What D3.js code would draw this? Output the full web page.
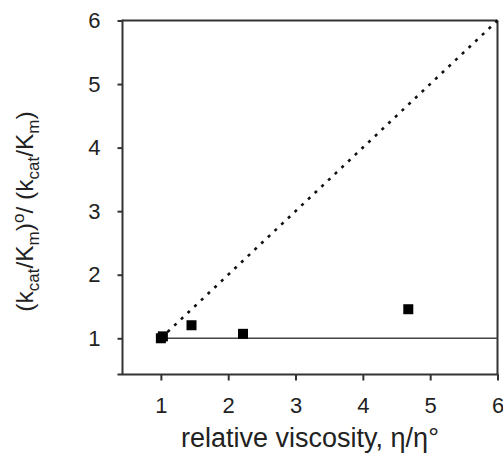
<!DOCTYPE html>
<html><head><meta charset="utf-8">
<script src="https://cdn.jsdelivr.net/npm/d3@7"></script>
<style>body{margin:0;background:#fff}svg{display:block}text{font-family:"Liberation Sans",Arial,sans-serif;fill:#222}</style>
</head><body><svg id="c" width="503" height="460"></svg>
<script>
const xTicks = [1, 2, 3, 4, 5, 6];
const yTicks = [1, 2, 3, 4, 5, 6];
const pointsX = [1.0, 1.03, 1.455, 2.22, 4.675];
const pointsY = [1.0, 1.03, 1.205, 1.07, 1.457];
const refLineX = [1, 6];
const refLineY = [1, 1];
const diagX = [1, 6];
const diagY = [1, 6];
const xDomain = [0.43, 6];
const yDomain = [0.43, 6];

const svg = d3.select("#c");
const L = 122.5, R = 497.5, T = 20.5, B = 374.5;
const x = d3.scaleLinear().domain(xDomain).range([L, R]);
const y = d3.scaleLinear().domain(yDomain).range([B, T]);
const axisColor = "#333";

svg.append("line").attr("x1", L).attr("x2", R).attr("y1", T).attr("y2", T).attr("stroke", axisColor).attr("stroke-width", 2);
svg.append("line").attr("x1", R).attr("x2", R).attr("y1", T).attr("y2", B).attr("stroke", axisColor).attr("stroke-width", 2);

const ga = svg.append("g").attr("transform", `translate(${L},0)`)
  .call(d3.axisLeft(y).tickValues(yTicks).tickSize(5).tickPadding(17).tickFormat(d3.format("d")));
const gb = svg.append("g").attr("transform", `translate(0,${B})`)
  .call(d3.axisBottom(x).tickValues(xTicks).tickSize(6).tickPadding(17).tickFormat(d3.format("d")));
[ga, gb].forEach(g => {
  g.select(".domain").remove();
  g.selectAll(".tick line").attr("stroke", axisColor).attr("stroke-width", 2);
  g.selectAll(".tick text").attr("font-size", 22).attr("fill", "#222").attr("font-family", "Liberation Sans, Arial, sans-serif");
});
svg.append("line").attr("x1", L).attr("x2", L).attr("y1", T - 1).attr("y2", B).attr("stroke", axisColor).attr("stroke-width", 2);
svg.append("line").attr("x1", L - 5).attr("x2", R + 1).attr("y1", B).attr("y2", B).attr("stroke", axisColor).attr("stroke-width", 2);

svg.append("line")
  .attr("x1", x(refLineX[0])).attr("x2", x(refLineX[1]))
  .attr("y1", y(refLineY[0])).attr("y2", y(refLineY[1]))
  .attr("stroke", "#444").attr("stroke-width", 1.6);

svg.append("line")
  .attr("x1", x(diagX[0])).attr("x2", x(diagX[1]))
  .attr("y1", y(diagY[0])).attr("y2", y(diagY[1]))
  .attr("stroke", "#111").attr("stroke-width", 2.6).attr("stroke-dasharray", "3,6.2");

const s = 10;
svg.selectAll("rect.pt").data(pointsX.map((d, i) => [d, pointsY[i]])).enter().append("rect")
  .attr("class", "pt")
  .attr("x", d => x(d[0]) - s / 2).attr("y", d => y(d[1]) - s / 2)
  .attr("width", s).attr("height", s).attr("fill", "#000");

svg.append("text").attr("x", (L + R) / 2).attr("y", 447).attr("text-anchor", "middle")
  .attr("font-size", 27).text("relative viscosity, η/η°");

const yt = svg.append("text").attr("transform", "translate(33,211.5) rotate(-90)")
  .attr("text-anchor", "middle").attr("font-size", 24.5);
const parts = [["(k", 0], ["cat", 1], ["/K", 0], ["m", 1], [")", 0], ["o", 2], ["/ (k", 0], ["cat", 1], ["/K", 0], ["m", 1], [")", 0]];
parts.forEach(([t, k]) => {
  const ts = yt.append("tspan").text(t);
  if (k === 1) ts.attr("font-size", 17).attr("baseline-shift", "-6");
  if (k === 2) ts.attr("font-size", 17).attr("baseline-shift", "9");
});
</script></body></html>
